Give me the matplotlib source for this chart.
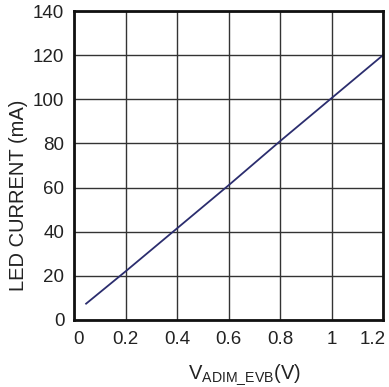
import matplotlib
matplotlib.use("Agg")
import matplotlib.pyplot as plt
from matplotlib.transforms import ScaledTranslation

x_vals = [0.047, 0.2, 0.4, 0.6, 0.8, 1.0, 1.2]
y_vals = [7.4, 22.0, 41.5, 61.0, 81.0, 100.5, 120.0]
x_ticks = [0, 0.2, 0.4, 0.6, 0.8, 1.0, 1.2]
x_tick_labels = ["0", "0.2", "0.4", "0.6", "0.8", "1", "1.2"]
y_ticks = [0, 20, 40, 60, 80, 100, 120, 140]

plt.rcParams['font.family'] = ['Liberation Sans', 'DejaVu Sans']
plt.rcParams['mathtext.fontset'] = 'custom'
plt.rcParams['mathtext.rm'] = 'Liberation Sans'
plt.rcParams['mathtext.it'] = 'Liberation Sans'

fig = plt.figure(figsize=(3.89, 3.87), dpi=100)
ax = fig.add_axes([74/389, 1-320/387, 309/389, 309/387])
ax.plot(x_vals, y_vals, color='#2b2d6e', lw=1.3)
ax.set_xlim(0, 1.2)
ax.set_ylim(0, 140)
ax.set_xticks(x_ticks)
ax.set_xticklabels(x_tick_labels)
ax.set_yticks(y_ticks)
ax.grid(True, color='#333333', lw=1.0)
ax.set_axisbelow(True)
for s in ax.spines.values():
    s.set_linewidth(2.0)
    s.set_color('#111111')
ax.tick_params(length=0, labelsize=13.5, colors='#222222')
ax.tick_params(axis='y', pad=7)
ax.tick_params(axis='x', pad=8)
labels = ax.get_xticklabels()
labels[0].set_transform(labels[0].get_transform() + ScaledTranslation(4/100, 0, fig.dpi_scale_trans))
labels[-1].set_transform(labels[-1].get_transform() + ScaledTranslation(-10/100, 0, fig.dpi_scale_trans))

fig.text(19/389, 1-195/387, 'LED CURRENT (mA)', rotation=90, ha='center', va='center',
         fontsize=14.5, color='#222222')
fig.text(244/389, 1-379/387, r'V$_{\mathregular{ADIM\_EVB}}$(V)', ha='center', va='baseline',
         fontsize=14.5, color='#222222')
fig.savefig('out.png', dpi=100)
